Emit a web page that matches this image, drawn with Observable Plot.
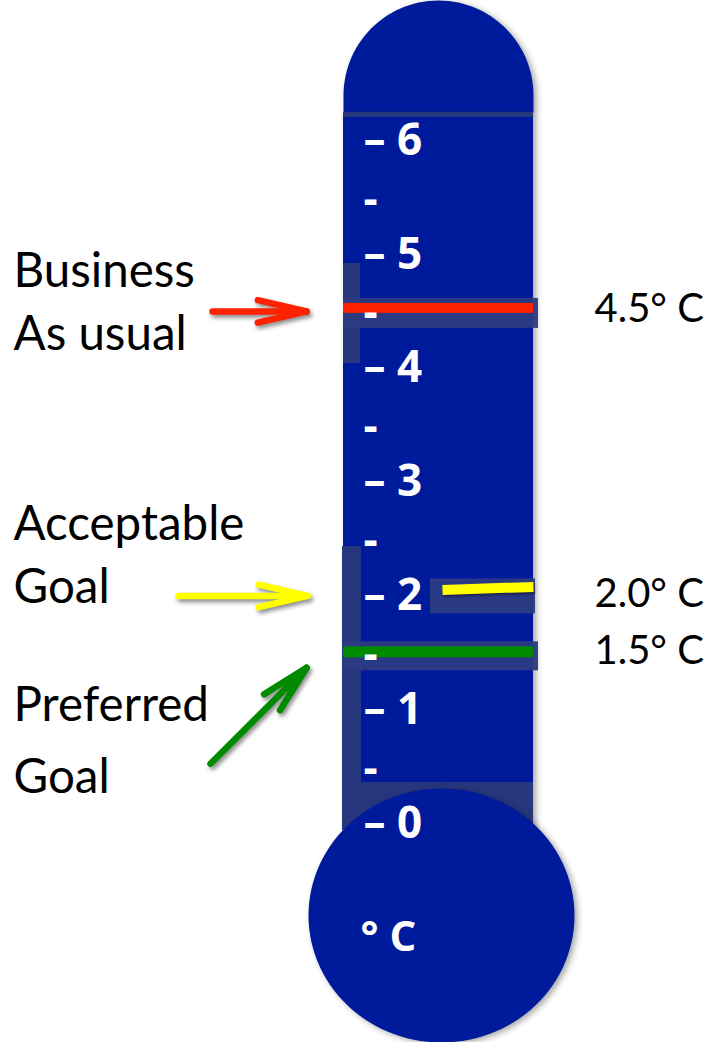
<!DOCTYPE html>
<html>
<head>
<meta charset="utf-8">
<script src="https://cdn.jsdelivr.net/npm/d3@7"></script>
<script src="https://cdn.jsdelivr.net/npm/@observablehq/plot@0.6"></script>
<style>
  html, body { margin: 0; padding: 0; background: #fff; }
  #chart svg { display: block; }
</style>
</head>
<body>
<div id="chart"></div>
<script>
// Temperature scale of the thermometer (°C)
const majorTicks = [0, 1, 2, 3, 4, 5, 6];
const minorTicks = [0.5, 1.5, 2.5, 3.5, 4.5, 5.5];

// Warming scenarios marked on the tube
const scenarioNames = [["Business", "As usual"], ["Acceptable", "Goal"], ["Preferred", "Goal"]];
const scenarioValues = [4.5, 2.0, 1.5];
const scenarioColors = ["#ff2200", "#ffff00", "#008a00"];
const valueLabels = ["4.5° C", "2.0° C", "1.5° C"];
const unitLabel = "° C";

// ---- layout -------------------------------------------------------------
const W = 713, H = 1042;
const PX_PER_DEG = 113.8, ZERO_PX = 823;          // vertical scale of the tube
const deg = p => (ZERO_PX - p) / PX_PER_DEG;       // pixel row -> degrees
const row = d => ZERO_PX - d * PX_PER_DEG;         // degrees -> pixel row

const BLUE = "#001a9c", SLATE = "#27377e", BAND = "#2c3b82";
const tubeL = 343, tubeR = 533;
const shadow = "drop-shadow(3px 2px 3px rgba(0,0,0,0.35))";
const arrowShadow = "drop-shadow(2px 3px 2px rgba(0,0,0,0.45))";
const SANS = "Lato, 'Open Sans', sans-serif";
const BOLD = "'Open Sans', sans-serif";

// rounded cap on top of the tube
const capPts = [];
for (let a = 180; a >= 0; a -= 3) {
  const r = (tubeR - tubeL) / 2, cx = (tubeL + tubeR) / 2, cy = 95;
  capPts.push({x: cx + r * Math.cos(a * Math.PI / 180), y: deg(cy - r * Math.sin(a * Math.PI / 180))});
}
capPts.push({x: tubeR, y: deg(112)}, {x: tubeL, y: deg(112)});

// bulb at the bottom
const bulbPts = [];
for (let a = 0; a < 360; a += 3) {
  bulbPts.push({x: 441 + 133 * Math.cos(a * Math.PI / 180), y: deg(915 + 127 * Math.sin(a * Math.PI / 180))});
}

// tube body and its darker strips
const tube = [{x1: tubeL, x2: tubeR, y1: deg(112), y2: deg(830)}];
const strips = [
  {x1: tubeL, x2: tubeR, y1: deg(112), y2: deg(117)},
  {x1: tubeL, x2: 360, y1: deg(263), y2: deg(363)},
  {x1: 342, x2: 361, y1: deg(546), y2: deg(830)},
  {x1: tubeL, x2: tubeR, y1: deg(782), y2: deg(830)}
];

// scenario table
const scenarios = scenarioValues.map((v, i) => ({
  value: v, color: scenarioColors[i], label: valueLabels[i], name: scenarioNames[i]
}));

// backing boxes and coloured level bars (offsets in px around each value)
const boxSpec = [[tubeL, 538, -13, 17], [430, 535, -17, 18], [tubeL, 538, -11, 18]];
const boxes = scenarios.map((s, i) => ({
  x1: boxSpec[i][0], x2: boxSpec[i][1],
  y1: deg(row(s.value) + boxSpec[i][2]), y2: deg(row(s.value) + boxSpec[i][3])
}));
const barSpec = [[tubeL, tubeR, -8, 2], null, [tubeL, tubeR, -6, 5]];
const bars = scenarios.flatMap((s, i) => barSpec[i] ? [{
  x1: barSpec[i][0], x2: barSpec[i][1],
  y1: deg(row(s.value) + barSpec[i][2]), y2: deg(row(s.value) + barSpec[i][3]), color: s.color
}] : []);
const tiltedBars = [{x1: 442, x2: tubeR, v: scenarioValues[1], dyL: -6, dyR: -9, color: scenarioColors[1]}];

// arrows: tail and tip in px, tip row taken from the value
const arrowSpec = [
  {tail: [212, 0], tip: [306, 0]},
  {tail: [178, 0], tip: [307, 0]},
  {tail: [210, 111], tip: [306, 15]}
];
const arrowSegs = scenarios.flatMap((s, i) => {
  const sp = arrowSpec[i];
  const x1 = sp.tail[0], y1 = row(s.value) + sp.tail[1];
  const x2 = sp.tip[0], y2 = row(s.value) + sp.tip[1];
  const th = Math.atan2(y2 - y1, x2 - x1), L = 50, phi = 13 * Math.PI / 180;
  const seg = (ax, ay, bx, by) => ({x1: ax, y1: deg(ay), x2: bx, y2: deg(by), color: s.color});
  return [
    seg(x1, y1, x2, y2),
    seg(x2 - L * Math.cos(th - phi), y2 - L * Math.sin(th - phi), x2, y2),
    seg(x2 - L * Math.cos(th + phi), y2 - L * Math.sin(th + phi), x2, y2)
  ];
});

// left-hand captions: baseline offsets (px) of the two lines from each value
const captionOffsets = [[-24, 39], [-56, 7], [68, 140]];
const captions = scenarios.flatMap((s, i) => s.name.map((t, j) => ({
  text: t, y: deg(row(s.value) + captionOffsets[i][j])
})));

const chart = Plot.plot({
  width: W,
  height: H,
  margin: 0,
  x: {domain: [0, W], range: [0, W], axis: null},
  y: {domain: [deg(H), deg(0)], axis: null},
  style: {background: "#fff"},
  marks: [
    // thermometer body
    Plot.line(capPts, {x: "x", y: "y", fill: BLUE, stroke: "none", curve: "linear-closed", imageFilter: shadow}),
    Plot.rect(tube, {x1: "x1", x2: "x2", y1: "y1", y2: "y2", fill: BLUE, imageFilter: shadow}),
    Plot.rect(strips, {x1: "x1", x2: "x2", y1: "y1", y2: "y2", fill: SLATE}),
    Plot.rect(boxes, {x1: "x1", x2: "x2", y1: "y1", y2: "y2", fill: BAND, fillOpacity: 0.95}),
    Plot.rect(bars, {x1: "x1", x2: "x2", y1: "y1", y2: "y2", fill: "color"}),
    Plot.link(tiltedBars, {
      x1: "x1", x2: "x2", y1: d => deg(row(d.v) + d.dyL), y2: d => deg(row(d.v) + d.dyR),
      stroke: "color", strokeWidth: 10, strokeLinecap: "butt", imageFilter: "drop-shadow(1px 2px 1px rgba(0,0,0,0.4))"
    }),
    Plot.line(bulbPts, {x: "x", y: "y", fill: BLUE, stroke: "none", curve: "linear-closed", imageFilter: shadow}),

    // scale
    Plot.text(majorTicks, {
      x: 363, y: d => d, text: d => "– " + d, textAnchor: "start", lineAnchor: "middle",
      fill: "#fff", fontSize: 44, fontWeight: "bold", fontFamily: BOLD
    }),
    Plot.text(minorTicks, {
      x: 363, y: d => d, text: () => "-", textAnchor: "start", lineAnchor: "middle", dy: 2,
      fill: "#fff", fontSize: 44, fontWeight: "bold", fontFamily: BOLD
    }),
    Plot.text([unitLabel], {
      x: 360, y: deg(950), text: d => d, textAnchor: "start", lineAnchor: "bottom",
      fill: "#fff", fontSize: 42, fontWeight: "bold", fontFamily: BOLD
    }),

    // arrows
    Plot.link(arrowSegs, {
      x1: "x1", y1: "y1", x2: "x2", y2: "y2", stroke: "color", strokeWidth: 6.5,
      strokeLinecap: "round", imageFilter: arrowShadow
    }),

    // captions and value labels
    Plot.text(captions, {
      x: 13, y: "y", text: "text", textAnchor: "start", lineAnchor: "bottom",
      fill: "#000", fontSize: 47.5, fontFamily: SANS
    }),
    Plot.text(scenarios, {
      x: 594, y: "value", text: "label", textAnchor: "start", lineAnchor: "middle", dy: -2,
      fill: "#000", fontSize: 40, fontFamily: SANS
    })
  ]
});

document.getElementById("chart").append(chart);
</script>
</body>
</html>
